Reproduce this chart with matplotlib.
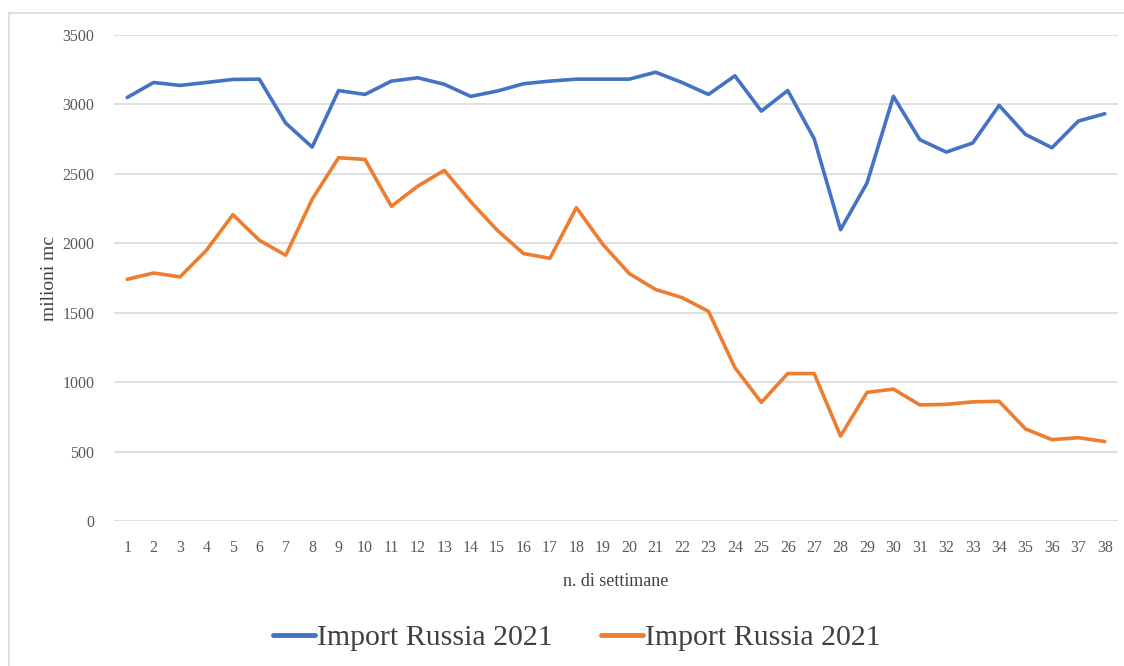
import matplotlib
matplotlib.use("Agg")
import matplotlib.pyplot as plt
from matplotlib.patches import Rectangle

weeks = list(range(1, 39))
import_blue = [3050, 3158, 3137, 3158, 3180, 3182, 2865, 2693, 3100, 3072,
               3168, 3192, 3145, 3058, 3096, 3149, 3168, 3182, 3182, 3182,
               3232, 3158, 3072, 3206, 2952, 3100, 2753, 2098, 2434, 3058,
               2746, 2657, 2722, 2993, 2784, 2688, 2880, 2933]
import_orange = [1741, 1786, 1758, 1950, 2206, 2022, 1914, 2317, 2616, 2604,
                 2266, 2412, 2525, 2300, 2095, 1926, 1892, 2257, 1993, 1782,
                 1667, 1609, 1510, 1105, 854, 1062, 1062, 612, 926, 950,
                 836, 840, 858, 862, 663, 586, 600, 572]
series_labels = ["Import Russia 2021", "Import Russia 2021"]
y_ticks = [0, 500, 1000, 1500, 2000, 2500, 3000, 3500]

plt.rcParams['font.family'] = ['Liberation Serif', 'DejaVu Serif']

fig = plt.figure(figsize=(11.24, 6.66), dpi=100)
fig.patches.append(Rectangle((9/1124, -0.1), 1.2, 1 - 13/666 + 0.1,
                             transform=fig.transFigure, fill=False,
                             edgecolor='#d9d9d9', linewidth=1.2))
ax = fig.add_axes([114/1124, 1 - 521/666, (1118 - 114)/1124, (521 - 35)/666])

ax.plot(weeks, import_blue, color='#4472C4', linewidth=2.6, label=series_labels[0],
        solid_joinstyle='round', solid_capstyle='round')
ax.plot(weeks, import_orange, color='#ED7D31', linewidth=2.6, label=series_labels[1],
        solid_joinstyle='round', solid_capstyle='round')

ax.set_xlim(0.5, 38.5)
ax.set_ylim(0, 3500)
ax.set_yticks(y_ticks)
ax.set_xticks(weeks)
ax.set_xticklabels([str(w) for w in weeks])
ax.grid(axis='y', color='#d9d9d9', linewidth=1.2)
ax.set_axisbelow(True)
for s in ax.spines.values():
    s.set_visible(False)
ax.tick_params(axis='both', length=0, labelsize=11.5, colors='#595959')
ax.tick_params(axis='y', pad=14)
ax.tick_params(axis='x', pad=14)

ax.set_ylabel("milioni mc", fontsize=14, color='#404040', labelpad=3)
ax.set_xlabel("n. di settimane", fontsize=13, color='#404040', labelpad=12)

leg = fig.legend(loc='center', bbox_to_anchor=(577/1124, 1 - 638/666), ncol=2,
                 frameon=False, fontsize=21.5, handlelength=1.4, handletextpad=0.08,
                 columnspacing=1.6, labelcolor='#404040')
for line in leg.get_lines():
    line.set_linewidth(3.5)

fig.savefig("out.png", dpi=100)
